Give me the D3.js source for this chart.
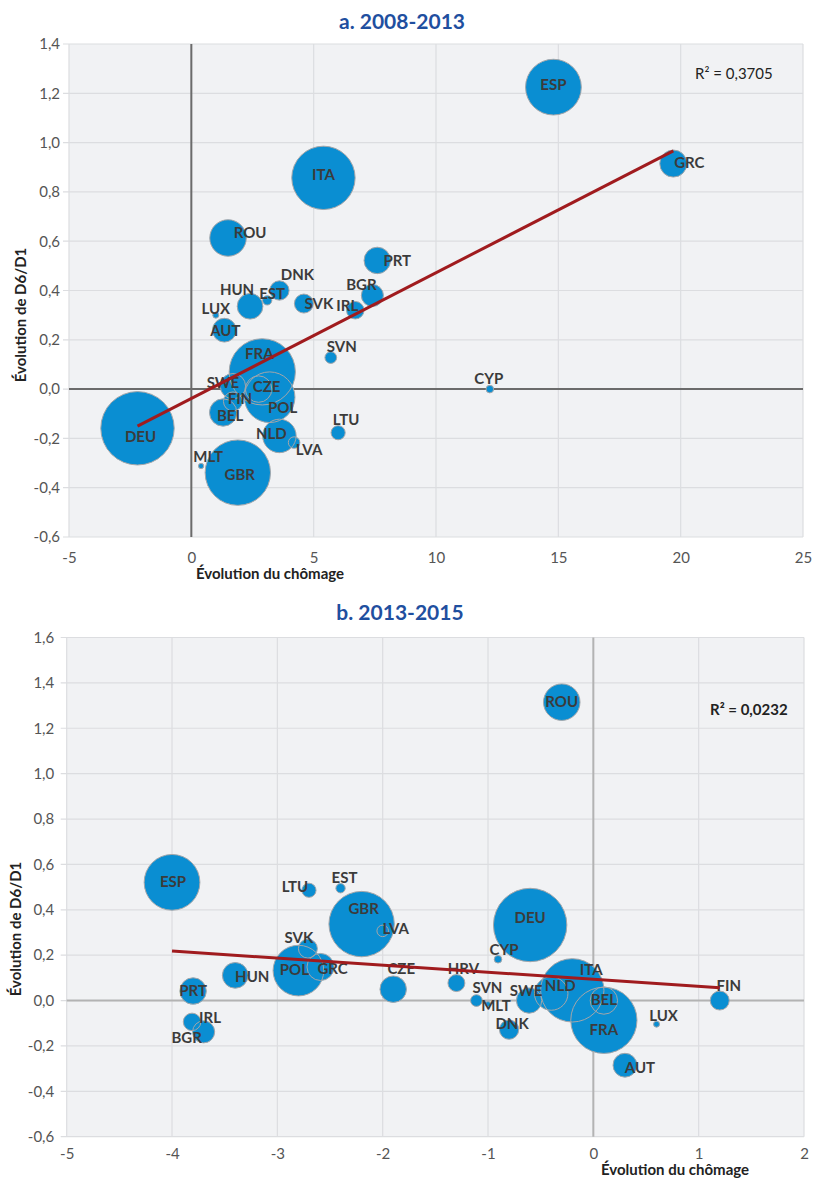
<!DOCTYPE html>
<html><head><meta charset="utf-8">
<script src="https://cdn.jsdelivr.net/npm/d3@7"></script>
<style>
body{margin:0;background:#fff}
svg{display:block}
text{font-family:Lato,"Open Sans",sans-serif}
</style>
</head><body>
<svg id="c" width="817" height="1178"></svg>
<script>
// ---------- DATA ----------
// Population (millions) – bubble size
const popCountries = ["DEU","FRA","GBR","ITA","ESP","POL","ROU","NLD","BEL","GRC","CZE","PRT","HUN","SWE","AUT","BGR","DNK","FIN","SVK","IRL","HRV","LTU","SVN","LVA","EST","CYP","LUX","MLT"];
const popValues    = [80.8, 65.8, 64.1, 60.2, 46.6, 38.5, 20.0, 16.8, 11.2, 11.0, 10.5, 10.5, 9.9, 9.6, 8.5, 7.3, 5.6, 5.4, 5.4, 4.6, 4.3, 3.0, 2.06, 2.0, 1.3, 0.86, 0.54, 0.42];

// Panel a. 2008-2013
const countriesA = ["ESP","GRC","ITA","ROU","PRT","DNK","HUN","EST","SVK","IRL","BGR","LUX","AUT","FRA","SVN","CYP","SWE","FIN","CZE","POL","BEL","NLD","LVA","LTU","DEU","GBR","MLT"];
const chomageA   = [14.8, 19.7, 5.4, 1.5, 7.6, 3.6, 2.4, 3.1, 4.6, 6.7, 7.4, 1.0, 1.35, 2.9, 5.7, 12.2, 1.7, 1.7, 2.75, 3.2, 1.3, 3.6, 4.2, 6.0, -2.2, 1.9, 0.4];
const d6d1A      = [1.225, 0.915, 0.857, 0.613, 0.522, 0.40, 0.336, 0.36, 0.347, 0.32, 0.38, 0.30, 0.239, 0.07, 0.128, 0.0, 0.012, -0.05, 0.0, -0.033, -0.095, -0.19, -0.217, -0.177, -0.159, -0.339, -0.312];
const xTicksA = [-5, 0, 5, 10, 15, 20, 25];
const yTicksA = [-0.6, -0.4, -0.2, 0.0, 0.2, 0.4, 0.6, 0.8, 1.0, 1.2, 1.4];
const trendA = [-0.038, 0.051];   // intercept, slope
const r2A = "R² = 0,3705";
const titleA = "a. 2008-2013";

// Panel b. 2013-2015
const countriesB = ["ESP","LTU","EST","GBR","LVA","SVK","POL","GRC","HUN","PRT","IRL","BGR","CZE","HRV","CYP","DEU","SVN","MLT","SWE","DNK","NLD","ITA","FRA","BEL","LUX","AUT","FIN","ROU"];
const chomageB   = [-4.0, -2.7, -2.4, -2.2, -2.0, -2.71, -2.8, -2.59, -3.4, -3.8, -3.81, -3.7, -1.9, -1.3, -0.905, -0.6, -1.11, -1.0, -0.61, -0.8, -0.4, -0.2, 0.1, 0.1, 0.6, 0.3, 1.2, -0.3];
const d6d1B      = [0.521, 0.486, 0.495, 0.337, 0.307, 0.229, 0.132, 0.148, 0.111, 0.042, -0.094, -0.138, 0.05, 0.077, 0.182, 0.333, 0.0, -0.016, 0.0, -0.128, 0.031, 0.045, -0.087, 0.0, -0.104, -0.285, 0.0, 1.315];
const xTicksB = [-5, -4, -3, -2, -1, 0, 1, 2];
const yTicksB = [-0.6, -0.4, -0.2, 0.0, 0.2, 0.4, 0.6, 0.8, 1.0, 1.2, 1.4, 1.6];
const trendB = [0.094, -0.031];
const r2B = "R² = 0,0232";
const titleB = "b. 2013-2015";

const xTitle = "Évolution du chômage";
const yTitle = "Évolution de D6/D1";

// ---------- LAYOUT (label offsets in px) ----------
const labelOffA = {ESP:[0,-3],GRC:[16,-1],ITA:[0,-3],ROU:[22,-5],PRT:[20,0],DNK:[18,-16],HUN:[-13,-17],EST:[5,-7],
  SVK:[15,0],IRL:[-8,-5],BGR:[-11,-11],LUX:[0,-7],AUT:[1,0],FRA:[-3,-18],SVN:[11,-11],CYP:[-1,-11],SWE:[-10,-4],
  FIN:[7,-3],CZE:[8,-3],POL:[13,10],BEL:[7,3],NLD:[-8,-2],LVA:[15,7],LTU:[8,-13],DEU:[3,8],GBR:[2,2],MLT:[7,-9]};
const labelOffB = {ESP:[1,-1],LTU:[-14,-4],EST:[4,-11],GBR:[2,-15],LVA:[13,-2],SVK:[-9,-11],POL:[-4,-1],GRC:[12,2],
  HUN:[17,1],PRT:[0,0],IRL:[18,-4],BGR:[-17,6],CZE:[8,-21],HRV:[7,-14],CYP:[6,-10],DEU:[0,-7],SVN:[11,-13],
  MLT:[8,1],SWE:[-3,-10],DNK:[3,-6],NLD:[9,-8],ITA:[19,-21],FRA:[0,9],BEL:[0,-1],LUX:[7,-9],AUT:[15,2],FIN:[9,-15],ROU:[0,-1]};

const svg = d3.select("#c");
const rScale = d3.scaleSqrt().domain([0, d3.max(popValues)]).range([0, 36.7]);
const popOf = c => popValues[popCountries.indexOf(c)];
const fmtY = v => v.toFixed(1).replace(".", ",").replace("-0,0","0,0");
const fmtX = v => String(v);

function panel(o) {
  const x = d3.scaleLinear().domain([o.xTicks[0], o.xTicks[o.xTicks.length-1]]).range([o.left, o.right]);
  const y = d3.scaleLinear().domain([o.yTicks[0], o.yTicks[o.yTicks.length-1]]).range([o.bottom, o.top]);
  const g = svg.append("g");

  g.append("text").attr("x", o.titleX).attr("y", o.titleY).attr("text-anchor","middle")
    .attr("font-size", 21).attr("font-weight", 700).attr("fill", "#1f4f9f").text(o.title);

  g.append("rect").attr("x", o.left).attr("y", o.top).attr("width", o.right-o.left).attr("height", o.bottom-o.top)
    .attr("fill", "#f1f2f4");

  // grid
  g.selectAll(".vg").data(o.xTicks).join("line")
    .attr("x1", d=>x(d)).attr("x2", d=>x(d)).attr("y1", o.top).attr("y2", o.bottom)
    .attr("stroke", "#dcdde0").attr("stroke-width", 1.2);
  g.selectAll(".hg").data(o.yTicks).join("line")
    .attr("x1", o.left-6).attr("x2", o.right).attr("y1", d=>y(d)).attr("y2", d=>y(d))
    .attr("stroke", "#dcdde0").attr("stroke-width", 1.2);
  // zero lines
  g.append("line").attr("x1", x(0)).attr("x2", x(0)).attr("y1", o.top).attr("y2", o.bottom)
    .attr("stroke", o.zeroColor).attr("stroke-width", 2);
  g.append("line").attr("x1", o.left).attr("x2", o.right).attr("y1", y(0)).attr("y2", y(0))
    .attr("stroke", o.zeroColor).attr("stroke-width", 2);

  // axes
  const ax = g.append("g").attr("transform", `translate(0,${o.bottom})`)
    .call(d3.axisBottom(x).tickValues(o.xTicks).tickSize(0).tickPadding(o.xPad).tickFormat(fmtX));
  ax.select(".domain").remove();
  ax.selectAll("text").attr("font-size", 15).attr("fill", "#555").attr("font-family","Lato");
  const ay = g.append("g").attr("transform", `translate(${o.left},0)`)
    .call(d3.axisLeft(y).tickValues(o.yTicks).tickSize(0).tickPadding(o.yPad).tickFormat(fmtY));
  ay.select(".domain").remove();
  ay.selectAll("text").attr("font-size", 15).attr("fill", "#555").attr("font-family","Lato");

  // axis titles
  g.append("text").attr("x", o.xtX).attr("y", o.xtY).attr("text-anchor","middle")
    .attr("font-size", 15).attr("font-weight", 700).attr("fill", "#222").text(xTitle);
  g.append("text").attr("transform", `translate(${o.ytX},${o.ytY}) rotate(-90)`).attr("text-anchor","middle")
    .attr("font-size", 15).attr("font-weight", 700).attr("fill", "#222").text(yTitle);

  const data = o.countries.map((c,i)=>({c, x:o.xs[i], y:o.ys[i], p:popOf(c)}))
    .sort((a,b)=>b.p-a.p);

  // bubbles: fills then outlines
  g.append("g").selectAll("circle").data(data).join("circle")
    .attr("cx", d=>x(d.x)).attr("cy", d=>y(d.y)).attr("r", d=>rScale(d.p))
    .attr("fill", "#0a8ed2");
  g.append("g").selectAll("circle").data(data).join("circle")
    .attr("cx", d=>x(d.x)).attr("cy", d=>y(d.y)).attr("r", d=>rScale(d.p))
    .attr("fill", "none").attr("stroke", "#a3a6aa").attr("stroke-width", 1);

  // labels
  g.append("g").selectAll("text").data(data).join("text")
    .attr("x", d=>x(d.x)+o.off[d.c][0]).attr("y", d=>y(d.y)+o.off[d.c][1]).attr("dy","0.36em")
    .attr("text-anchor","middle").attr("font-size", 15).attr("font-weight", 700).attr("fill", "#3b3b3b")
    .text(d=>d.c);

  // trend line
  const xmin = d3.min(o.xs), xmax = d3.max(o.xs);
  const line = d3.line().x(d=>x(d)).y(d=>y(o.trend[0] + o.trend[1]*d));
  g.append("path").attr("d", line([xmin, xmax])).attr("fill","none")
    .attr("stroke", "#a01b1e").attr("stroke-width", 3);

  // R²
  g.append("text").attr("x", o.r2X).attr("y", o.r2Y).attr("font-size", 15)
    .attr("font-weight", o.r2Bold ? 700 : 400).attr("fill", "#222").text(o.r2);
}

panel({title:titleA, titleX:402, titleY:29, left:69, right:803, top:44, bottom:537,
  xTicks:xTicksA, yTicks:yTicksA, countries:countriesA, xs:chomageA, ys:d6d1A, off:labelOffA,
  trend:trendA, r2:r2A, r2X:695, r2Y:79, r2Bold:false, zeroColor:"#6b6b6b",
  xPad:15, yPad:9, xtX:270, xtY:579, ytX:26, ytY:315});

panel({title:titleB, titleX:400, titleY:620, left:66.7, right:804, top:637.5, bottom:1136.7,
  xTicks:xTicksB, yTicks:yTicksB, countries:countriesB, xs:chomageB, ys:d6d1B, off:labelOffB,
  trend:trendB, r2:r2B, r2X:710, r2Y:715, r2Bold:true, zeroColor:"#b3b3b3",
  xPad:12, yPad:12.5, xtX:675, xtY:1175, ytX:21, ytY:929});
</script>
</body></html>
